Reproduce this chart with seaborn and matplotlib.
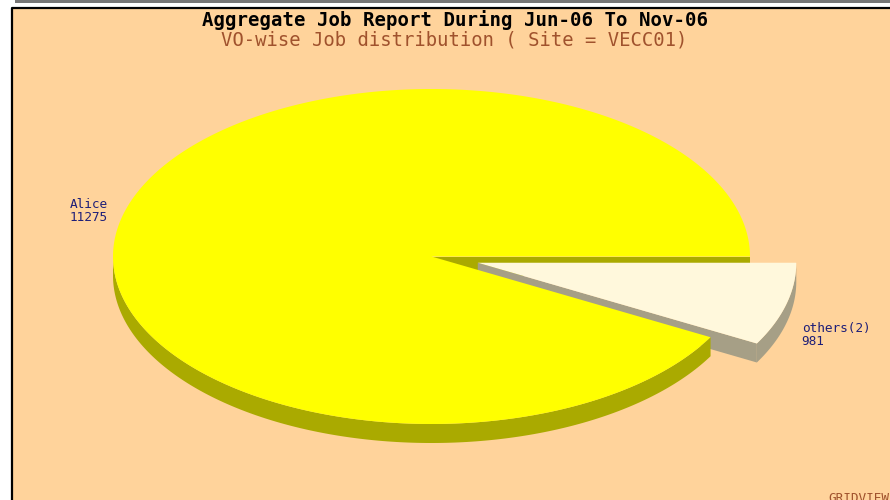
import numpy as np
import matplotlib
matplotlib.use('Agg')
import matplotlib.pyplot as plt
from matplotlib.patches import Polygon, Rectangle
import seaborn as sns

sns.set_theme(style='white')
plt.rcParams['font.family'] = ['DejaVu Sans Mono', 'DejaVu Sans']

# Data
vo_names = ['Alice', 'others(2)']
job_counts = [11275, 981]
explode = [0.0, 0.15]

title = 'Aggregate Job Report During Jun-06 To Nov-06'
subtitle = 'VO-wise Job distribution ( Site = VECC01)'

# Styling
BG = '#FFD39B'
TOP_COLORS = ['#FFFF00', '#FFF8DC']
SIDE_COLORS = ['#AAAA00', '#A69F86']
LABEL_COLOR = '#1E1E78'
CX, CY, RX, RY, DEPTH = 431.5, 256.5, 318.5, 167.5, 19


def ell(t, dx=0.0, dy=0.0, depth=0.0):
    """Point on the pie ellipse (t in radians, ccw, screen y down)."""
    return np.column_stack([CX + dx + RX * np.cos(t), CY + dy - RY * np.sin(t) + depth])


def main() -> None:
    fig = plt.figure(figsize=(8.9, 5.0), dpi=100)
    fig.patch.set_facecolor('white')
    ax = fig.add_axes([0, 0, 1, 1])
    ax.set_xlim(0, 890)
    ax.set_ylim(500, 0)
    ax.axis('off')

    # frame
    ax.add_patch(Rectangle((15, 0), 875, 2.5, color='#767676', lw=0))
    ax.add_patch(Rectangle((12, 8), 880, 495, facecolor=BG, edgecolor='none'))
    ax.plot([11.5, 11.5, 890], [500, 7.5, 7.5], color='black', lw=1.6)

    # slice angles from the values
    total = sum(job_counts)
    bounds = np.concatenate([[0], np.cumsum(job_counts) / total]) * 2 * np.pi
    slices = []
    for i in range(len(job_counts)):
        a, b = bounds[i], bounds[i + 1]
        mid = (a + b) / 2
        dx = explode[i] * RX * np.cos(mid)
        dy = -explode[i] * RY * np.sin(mid)
        slices.append((i, a, b, mid, dx, dy))

    # radial cut faces, exploded slices on top
    for i, a, b, mid, dx, dy in sorted(slices, key=lambda s: explode[s[0]]):
        for ang, visible in ((a, np.cos(a) > 1e-9), (b, np.cos(b) < -1e-9)):
            if not visible:
                continue
            p = ell(np.array([ang]), dx, dy)[0]
            c = np.array([CX + dx, CY + dy])
            poly = [c, p, p + [0, DEPTH], c + [0, DEPTH]]
            ax.add_patch(Polygon(poly, closed=True, facecolor=SIDE_COLORS[i], edgecolor='none', zorder=1))

    # rims and tops: exploded slices first
    for k, (i, a, b, mid, dx, dy) in enumerate(sorted(slices, key=lambda s: -explode[s[0]])):
        z = 2 + 2 * k
        lo, hi = max(a, np.pi), min(b, 2 * np.pi)
        if hi > lo:
            t = np.linspace(lo, hi, 200)
            top = ell(t, dx, dy)
            bot = ell(t[::-1], dx, dy, DEPTH)
            ax.add_patch(Polygon(np.vstack([top, bot]), closed=True,
                                 facecolor=SIDE_COLORS[i], edgecolor='none', zorder=z))
        t = np.linspace(a, b, 400)
        face = np.vstack([[CX + dx, CY + dy], ell(t, dx, dy)])
        ax.add_patch(Polygon(face, closed=True, facecolor=TOP_COLORS[i], edgecolor='none', zorder=z + 1))

    # labels
    for i, a, b, mid, dx, dy in slices:
        lx = CX + dx + 1.05 * RX * np.cos(mid)
        ly = CY + dy - 1.1 * RY * np.sin(mid)
        if np.sin(mid) < 0:
            ly += DEPTH + 7
        ha = 'left' if np.cos(mid) > 0 else 'right'
        ax.text(lx, ly, f'{vo_names[i]}\n{job_counts[i]}', ha=ha, va='center', multialignment='left',
                fontsize=9.2, color=LABEL_COLOR, linespacing=1.0, zorder=10)

    ax.text(455.5, 20, title, ha='center', va='center', fontsize=13.7, fontweight='bold', color='black')
    ax.text(454, 40, subtitle, ha='center', va='center', fontsize=13.6, color='#A0522D')
    ax.text(828, 492, 'GRIDVIEW', ha='left', va='top', fontsize=9.2, color='#A0522D')

    fig.savefig('out.png', dpi=100)


if __name__ == '__main__':
    main()
